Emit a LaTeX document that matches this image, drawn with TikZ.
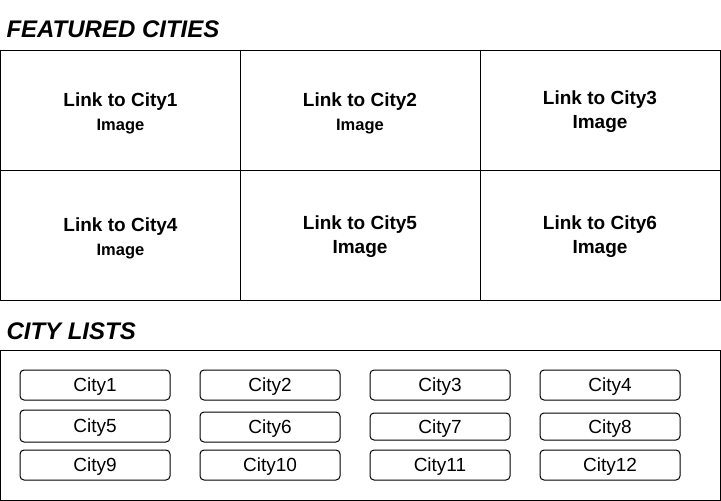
\documentclass[tikz,border=0pt]{standalone}
\usepackage{fontspec}
\setmainfont{Liberation Sans}
\begin{document}
\begin{tikzpicture}[x=1pt,y=-1pt,line width=1pt,
  cell/.style={draw,rectangle,inner sep=0pt,minimum width=240pt},
  ctext/.style={inner sep=0pt,align=center,font=\bfseries\fontsize{19}{24}\selectfont},
  btn/.style={draw,rectangle,rounded corners=4pt,inner sep=0pt,minimum height=30pt,minimum width=140pt,text height=14pt,text depth=1pt,font=\fontsize{19}{20}\selectfont},
  title/.style={anchor=base west,inner sep=0pt,font=\bfseries\itshape\fontsize{24}{28}\selectfont}]
\useasboundingbox (0,0) rectangle (721,501);
\newcommand{\smallimg}{{\fontsize{16.5}{24}\selectfont Image}}
\node[title] (t1) at (6,37) {FEATURED CITIES};
\node[cell,minimum height=120pt] (f1) at (120.5,110) {};
\node[cell,minimum height=120pt] (f2) at (360,110) {};
\node[cell,minimum height=120pt] (f3) at (600,110) {};
\node[cell,minimum height=130pt] (f4) at (120.5,235) {};
\node[cell,minimum height=130pt] (f5) at (360,235) {};
\node[cell,minimum height=130pt] (f6) at (600,235) {};
\node[ctext] (l1) at ([yshift=-3pt]f1.center) {Link to City1\\\smallimg};
\node[ctext] (l2) at ([yshift=-3pt]f2.center) {Link to City2\\\smallimg};
\node[ctext] (l3) at ([yshift=-1.5pt]f3.center) {Link to City3\\Image};
\node[ctext] (l4) at ([yshift=-3pt]f4.center) {Link to City4\\\smallimg};
\node[ctext] (l5) at ([yshift=-2pt]f5.center) {Link to City5\\Image};
\node[ctext] (l6) at ([yshift=-2pt]f6.center) {Link to City6\\Image};
\node[title] (t2) at (6,339) {CITY LISTS};
\node[draw,rectangle,inner sep=0pt,minimum width=719.5pt,minimum height=150pt] (list) at (360.25,425) {};
\node[btn,minimum width=150pt] (c1) at (95,385) {City1};
\node[btn] (c2) at (270,385) {City2};
\node[btn] (c3) at (440,385) {City3};
\node[btn] (c4) at (610,385) {City4};
\node[btn,minimum width=150pt,minimum height=32pt] (c5) at (95,426) {City5};
\node[btn] (c6) at (270,427) {City6};
\node[btn,minimum height=27pt] (c7) at (440,426.5) {City7};
\node[btn,minimum height=27pt] (c8) at (610,426.5) {City8};
\node[btn,minimum width=150pt] (c9) at (95,465) {City9};
\node[btn] (c10) at (270,465) {City10};
\node[btn] (c11) at (440,465) {City11};
\node[btn] (c12) at (610,465) {City12};
\end{tikzpicture}
\end{document}
